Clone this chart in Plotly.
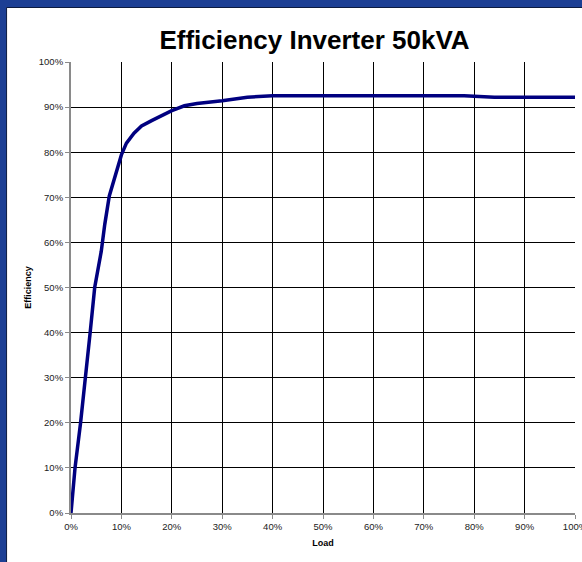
import plotly.graph_objects as go

# Data (load fraction, efficiency fraction)
load = [0.0, 0.008, 0.019, 0.029, 0.038, 0.047, 0.054, 0.060, 0.067, 0.076,
        0.100, 0.110, 0.125, 0.140, 0.160, 0.183, 0.200, 0.225, 0.250, 0.300,
        0.350, 0.400, 0.500, 0.600, 0.700, 0.780, 0.840, 0.900, 1.000]
efficiency = [0.0, 0.10, 0.20, 0.30, 0.40, 0.50, 0.54, 0.58, 0.64, 0.703,
              0.794, 0.820, 0.842, 0.858, 0.870, 0.883, 0.892, 0.903, 0.908, 0.914,
              0.922, 0.925, 0.925, 0.925, 0.925, 0.925, 0.922, 0.922, 0.922]

title_text = "Efficiency Inverter 50kVA"
x_title = "Load"
y_title = "Efficiency"

W, H = 582, 562
ML, MR, MT, MB = 71, 6.5, 62, 49
PW = W - ML - MR
PH = H - MT - MB

def px_x(p):
    return (p - ML) / PW

def px_y(p):
    return (H - MB - p) / PH

fig = go.Figure()
fig.add_trace(go.Scatter(
    x=load, y=efficiency, mode="lines",
    line=dict(color="#000080", width=3.5),
    hoverinfo="skip", showlegend=False,
))

tick_font = dict(family="Liberation Sans, Arial, sans-serif", size=9.5, color="#222222")
title_font = dict(family="Liberation Sans, Arial, sans-serif", size=9, color="#000000")

fig.update_layout(
    width=W, height=H,
    margin=dict(l=ML, r=MR, t=MT, b=MB, pad=0),
    paper_bgcolor="#1c3f94",
    plot_bgcolor="#ffffff",
    showlegend=False,
    title=dict(
        text="<b>" + title_text + "</b>",
        font=dict(family="Liberation Sans, Arial, sans-serif", size=26, color="#000000"),
        xref="container", x=314.5 / W, xanchor="center",
        yref="container", y=1 - 40 / H, yanchor="middle",
    ),
    xaxis=dict(
        range=[0, 1], dtick=0.1, tick0=0, tickformat=".0%",
        showgrid=True, gridcolor="#000000", gridwidth=1,
        zeroline=False, showline=True, linecolor="#8a8a8a", linewidth=2,
        ticks="outside", ticklen=4, tickcolor="#8a8a8a", tickwidth=1,
        tickfont=tick_font, automargin=False, ticklabeloverflow="allow",
        title=dict(text="<b>" + x_title + "</b>", font=title_font, standoff=8),
    ),
    yaxis=dict(
        range=[0, 1], dtick=0.1, tick0=0, tickformat=".0%",
        showgrid=True, gridcolor="#000000", gridwidth=1,
        zeroline=False, showline=True, linecolor="#8a8a8a", linewidth=2,
        ticks="outside", ticklen=4, tickcolor="#8a8a8a", tickwidth=1,
        tickfont=tick_font, automargin=False, ticklabeloverflow="allow",
        title=dict(text="<b>" + y_title + "</b>", font=title_font, standoff=6),
    ),
    shapes=[
        dict(type="rect", xref="paper", yref="paper", layer="below",
             x0=px_x(6.5), x1=px_x(W + 20), y0=px_y(H + 20), y1=px_y(7.5),
             fillcolor="#ffffff", line=dict(color="#0b1a3f", width=1)),
    ],
)

fig.write_html(
    "out.html",
    config={"displayModeBar": False},
    post_script="document.body.style.margin='0';document.body.style.overflow='hidden';",
)
